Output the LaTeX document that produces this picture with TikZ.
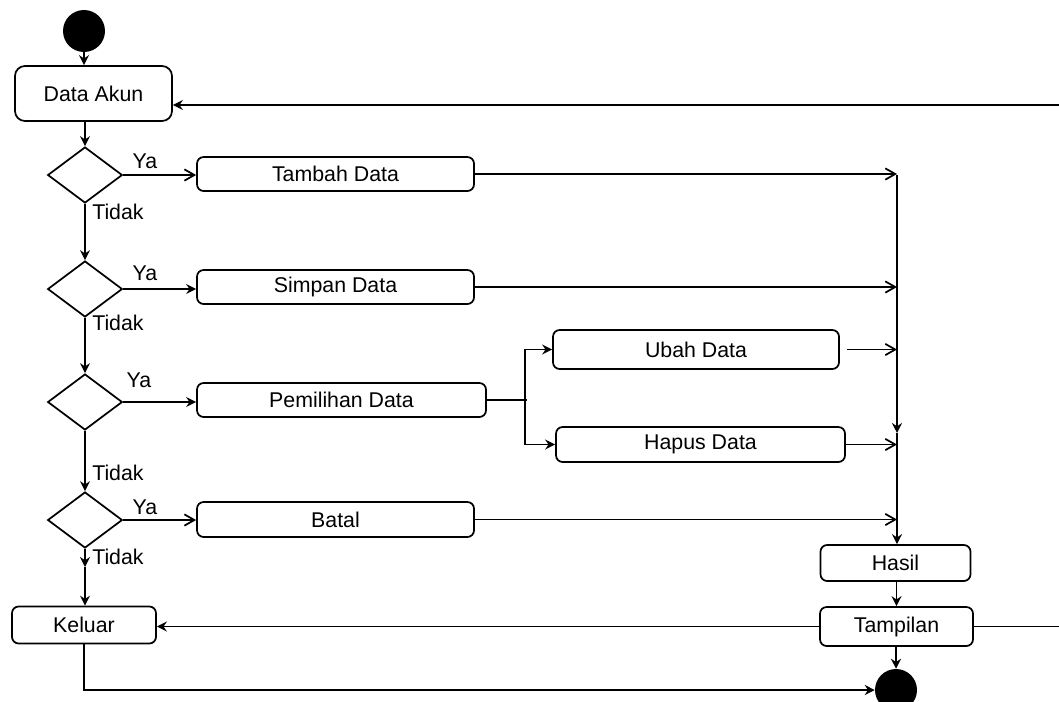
\documentclass[tikz,border=0pt]{standalone}
\usepackage{fontspec}
\setmainfont{Liberation Sans}
\usetikzlibrary{shapes.geometric,arrows.meta}
\tikzset{
  every node/.style={font=\fontsize{16}{19}\selectfont},
  base/.style={line width=1.3pt},
  act/.style={base, draw, rounded corners=5pt, inner sep=0pt},
  bigact/.style={act, rounded corners=7.5pt},
  choice/.style={base, draw, diamond, inner sep=0pt, minimum width=56pt, minimum height=42pt},
  dot/.style={circle, fill=black, inner sep=0pt, minimum size=31.5pt},
  lbl/.style={inner sep=0pt},
  flow/.style={base, -{Stealth[length=7.5pt,width=7.5pt,inset=2.5pt]}},
  openflow/.style={base, -{Straight Barb[length=7.5pt,width=8.5pt]}},
  plain/.style={base},
}
\begin{document}
\begin{tikzpicture}[x=0.75pt, y=-0.75pt]
\useasboundingbox (0,0) rectangle (1059,701);
\clip (0,0) rectangle (1059,701);

% start and end points
\node[dot] (start) at (84,31) {};
\node[dot] (finish) at (896,690) {};

% left column: account menu and decisions
\node[bigact, minimum width=117.75pt, minimum height=41.25pt] (akun) at (93.5,93.5) {Data Akun};
\node[choice] (c1) at (85,175) {};
\node[choice] (c2) at (85,289) {};
\node[choice] (c3) at (85,402) {};
\node[choice] (c4) at (85,520) {};
\node[act, minimum width=108pt, minimum height=27.75pt] (keluar) at (84,625) {Keluar};

% actions
\node[act, minimum width=207.75pt, minimum height=25.5pt] (tambah) at (335.5,174) {Tambah Data};
\node[act, minimum width=207.75pt, minimum height=25.5pt] (simpan) at (335.5,287) {Simpan Data};
\node[act, minimum width=216.75pt, minimum height=25.5pt] (pilih) at (341.5,400) {Pemilihan Data};
\node[act, minimum width=207.75pt, minimum height=26.25pt] (batal) at (335.5,519.5) {Batal};
\node[act, minimum width=214.5pt, minimum height=29.25pt] (ubah) at (696,349.5) {Ubah Data};
\node[act, minimum width=216.75pt, minimum height=26.25pt] (hapus) at (700.5,444.5) {Hapus Data};
\node[act, minimum width=112.5pt, minimum height=27pt] (hasil) at (895.5,563) {Hasil};
\node[act, minimum width=114.75pt, minimum height=29.25pt] (tampil) at (896.5,626.5) {Tampilan};

% branch labels
\node[lbl] (ya1) at (145,161) {Ya};
\node[lbl] (ya2) at (145,273) {Ya};
\node[lbl] (ya3) at (139,380) {Ya};
\node[lbl] (ya4) at (145,507) {Ya};
\node[lbl, anchor=west] (no1) at (92,212) {Tidak};
\node[lbl, anchor=west] (no2) at (92,323) {Tidak};
\node[lbl, anchor=west] (no3) at (92,473) {Tidak};
\node[lbl, anchor=west] (no4) at (92,557) {Tidak};

% helper points
\coordinate (jtop) at (897,175);
\coordinate (jmid) at (897,433);
\coordinate (split) at (525,400);
\coordinate (splitend) at (527,400);
\coordinate (cmid) at (85,567);
\coordinate (rtop) at (1059,105);
\coordinate (rbot) at (1059,626.5);

% main column
\draw[flow] (start.south) -- (start.south |- akun.north);
\draw[flow] (c1.north |- akun.south) -- (c1.north);
\draw[flow] (c1.south) -- (c2.north);
\draw[flow] (c2.south) -- (c3.north);
\draw[flow] (c3.south) -- (c4.north);
\draw[flow] (c4.south) -- (cmid);
\draw[flow] (cmid) -- (cmid |- keluar.north);

% decisions to actions
\draw[openflow] (c1.east) -- (c1.east -| tambah.west);
\draw[flow] (c2.east) -- (c2.east -| simpan.west);
\draw[flow] (c3.east) -- (c3.east -| pilih.west);
\draw[openflow] (c4.east) -- (c4.east -| batal.west);

% selection split
\draw[plain] (pilih.east) -- (splitend);
\draw[flow] (split) |- (ubah.west);
\draw[flow] (split) |- (hapus.west);

% actions into the collecting line
\draw[openflow] (tambah.east) -- (tambah.east -| jtop);
\draw[openflow] (simpan.east) -- (simpan.east -| jtop);
\draw[openflow] ([xshift=5pt]ubah.east) -- (ubah.east -| jtop);
\draw[openflow] (hapus.east) -- (hapus.east -| jtop);
\draw[openflow] (batal.east) -- (batal.east -| jtop);
\draw[flow] (jtop) -- (jmid);
\draw[flow] (jmid) -- (jmid |- hasil.north);

% result and display
\draw[flow] (hasil.south -| tampil.north) -- (tampil.north);
\draw[flow] (tampil.south -| finish.north) -- (finish.north);
\draw[flow] (tampil.west) -- (tampil.west -| keluar.east);
\draw[plain] (tampil.east) -- (rbot);
\draw[flow] (rtop) -- (rtop -| akun.east);
\draw[flow] (keluar.south) |- (finish.west);
\end{tikzpicture}
\end{document}
